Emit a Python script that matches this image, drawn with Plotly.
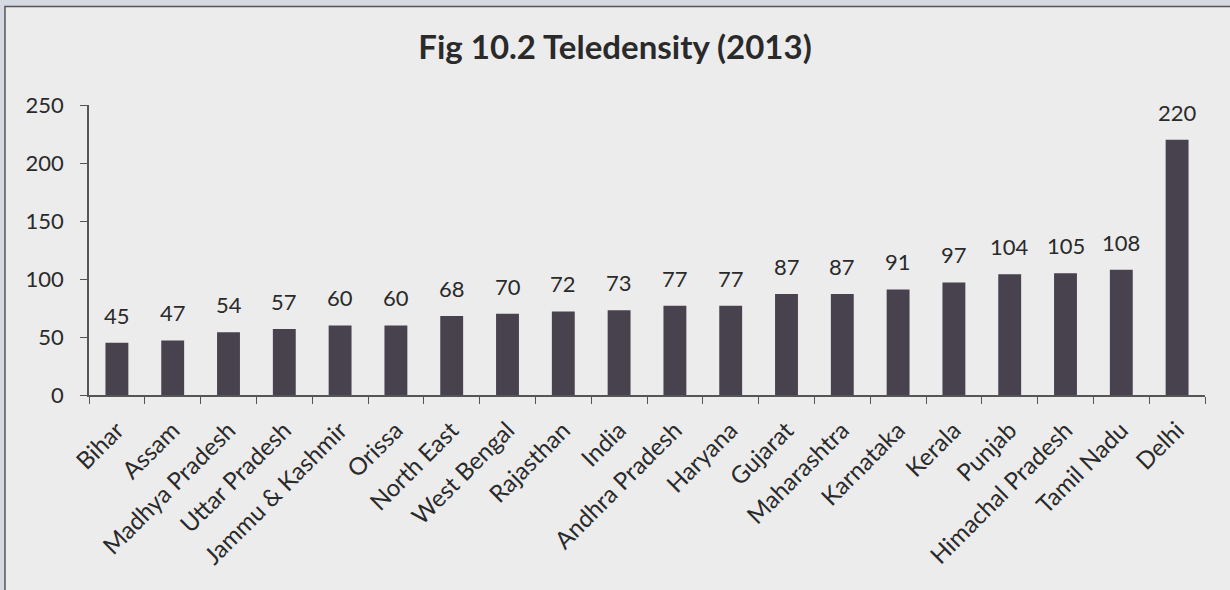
import plotly.graph_objects as go

states = ["Bihar", "Assam", "Madhya Pradesh", "Uttar Pradesh", "Jammu & Kashmir",
          "Orissa", "North East", "West Bengal", "Rajasthan", "India",
          "Andhra Pradesh", "Haryana", "Gujarat", "Maharashtra", "Karnataka",
          "Kerala", "Punjab", "Himachal Pradesh", "Tamil Nadu", "Delhi"]
teledensity = [45, 47, 54, 57, 60, 60, 68, 70, 72, 73,
               77, 77, 87, 87, 91, 97, 104, 105, 108, 220]
y_ticks = [0, 50, 100, 150, 200, 250]

FONT = "Lato"
TEXT = "#2a2a2a"
AXIS = "#555555"

fig = go.Figure(go.Bar(
    x=states,
    y=teledensity,
    marker=dict(color="#48414e", line=dict(width=0)),
    width=0.41,
))

# value labels above each bar
for s, v in zip(states, teledensity):
    fig.add_annotation(x=s, y=v, text=str(v), showarrow=False,
                       yanchor="bottom", yshift=12,
                       font=dict(family=FONT, size=22, color=TEXT))

# panel background with frame, extending beyond the plot area
fig.add_shape(type="rect", xref="paper", yref="paper",
              x0=-0.0753, x1=1.05, y0=-0.70, y1=1.340,
              fillcolor="#ececed", line=dict(color="#555555", width=1.5),
              layer="below")

fig.update_layout(
    width=1230, height=590,
    margin=dict(l=89, r=25, t=105, b=195),
    paper_bgcolor="#d5dae2",
    plot_bgcolor="rgba(0,0,0,0)",
    showlegend=False,
    title=dict(text="<b>Fig 10.2 Teledensity (2013)</b>", x=0.5, xanchor="center",
               y=0.92, yanchor="middle",
               font=dict(family=FONT, size=33, color=TEXT)),
    xaxis=dict(
        showgrid=False, showline=True, linecolor=AXIS, linewidth=1.5,
        ticks="outside", ticklen=7, tickcolor=AXIS, tickson="boundaries",
        tickangle=-45, ticklabelstandoff=10,
        tickfont=dict(family=FONT, size=24, color=TEXT),
    ),
    yaxis=dict(
        range=[0, 250], tickvals=y_ticks, showgrid=False, zeroline=False,
        showline=True, linecolor=AXIS, linewidth=1.5,
        ticks="outside", ticklen=7, tickcolor=AXIS, ticklabelstandoff=12,
        tickfont=dict(family=FONT, size=22, color=TEXT),
    ),
)

fig.write_html("out.html")
